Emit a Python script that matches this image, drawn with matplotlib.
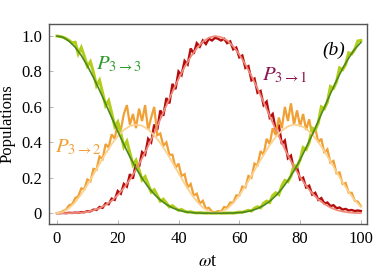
import numpy as np
import matplotlib

matplotlib.use("Agg")
import matplotlib.pyplot as plt

plt.rcParams["font.family"] = ["Liberation Serif", "DejaVu Serif"]
plt.rcParams["mathtext.fontset"] = "stix"

# smooth curves, sampled every 2 units of wt
t_smooth = list(range(0, 101, 2))
p33_smooth = [1.000, 0.993, 0.971, 0.937, 0.890, 0.832, 0.766, 0.694, 0.618, 0.540,
              0.462, 0.388, 0.318, 0.254, 0.197, 0.148, 0.107, 0.074, 0.049, 0.030,
              0.017, 0.008, 0.004, 0.001, 0.000, 0.000, 0.000, 0.000, 0.000, 0.001,
              0.003, 0.007, 0.014, 0.026, 0.043, 0.067, 0.098, 0.137, 0.184, 0.239,
              0.301, 0.370, 0.443, 0.520, 0.598, 0.675, 0.749, 0.817, 0.876, 0.926,
              0.964]
p32_smooth = [0.000, 0.007, 0.028, 0.062, 0.107, 0.160, 0.218, 0.278, 0.336, 0.390,
              0.435, 0.470, 0.492, 0.500, 0.494, 0.473, 0.440, 0.396, 0.344, 0.286,
              0.226, 0.167, 0.113, 0.067, 0.032, 0.009, 0.000, 0.006, 0.025, 0.057,
              0.101, 0.153, 0.211, 0.271, 0.329, 0.384, 0.430, 0.466, 0.490, 0.500,
              0.495, 0.477, 0.445, 0.402, 0.350, 0.293, 0.233, 0.174, 0.120, 0.073,
              0.036]
p31_smooth = [0.000, 0.000, 0.000, 0.001, 0.003, 0.008, 0.016, 0.028, 0.046, 0.070,
              0.102, 0.142, 0.190, 0.246, 0.309, 0.379, 0.453, 0.530, 0.608, 0.685,
              0.758, 0.825, 0.883, 0.931, 0.968, 0.991, 1.000, 0.994, 0.975, 0.942,
              0.896, 0.840, 0.775, 0.703, 0.627, 0.549, 0.472, 0.397, 0.326, 0.261,
              0.204, 0.154, 0.112, 0.078, 0.051, 0.032, 0.018, 0.009, 0.004, 0.001,
              0.000]

# full (jagged) curves, sampled every unit of wt
t_full = list(range(0, 101))
p33_full = [1.000, 0.998, 0.993, 0.986, 0.975, 0.962, 0.965, 0.900, 0.935, 0.885,
            0.830, 0.855, 0.795, 0.720, 0.750, 0.680, 0.608, 0.635, 0.565, 0.490,
            0.515, 0.450, 0.375, 0.405, 0.340, 0.272, 0.298, 0.245, 0.188, 0.206,
            0.163, 0.119, 0.132, 0.100, 0.068, 0.079, 0.057, 0.035, 0.042, 0.028,
            0.016, 0.021, 0.011, 0.005, 0.008, 0.003, 0.001, 0.003, 0.001, 0.000,
            0.001, 0.000, 0.000, 0.001, 0.000, 0.000, 0.001, 0.001, 0.000, 0.003,
            0.006, 0.004, 0.011, 0.016, 0.012, 0.028, 0.036, 0.030, 0.056, 0.068,
            0.060, 0.100, 0.115, 0.105, 0.155, 0.185, 0.178, 0.210, 0.270, 0.262,
            0.300, 0.370, 0.360, 0.400, 0.480, 0.470, 0.510, 0.600, 0.590, 0.628,
            0.715, 0.705, 0.742, 0.820, 0.810, 0.840, 0.905, 0.900, 0.925, 0.972,
            0.975]
p32_full = [0.000, 0.004, 0.012, 0.020, 0.045, 0.050, 0.085, 0.095, 0.140, 0.135,
            0.190, 0.180, 0.250, 0.245, 0.320, 0.305, 0.390, 0.370, 0.445, 0.420,
            0.510, 0.470, 0.560, 0.610, 0.500, 0.560, 0.480, 0.590, 0.520, 0.610,
            0.470, 0.540, 0.600, 0.440, 0.450, 0.380, 0.400, 0.330, 0.330, 0.255,
            0.280, 0.210, 0.220, 0.145, 0.165, 0.100, 0.110, 0.055, 0.070, 0.025,
            0.030, 0.008, 0.004, 0.012, 0.008, 0.035, 0.030, 0.060, 0.060, 0.100,
            0.100, 0.150, 0.145, 0.210, 0.200, 0.280, 0.270, 0.350, 0.330, 0.420,
            0.390, 0.480, 0.440, 0.540, 0.480, 0.600, 0.520, 0.620, 0.500, 0.580,
            0.490, 0.560, 0.470, 0.530, 0.440, 0.480, 0.400, 0.420, 0.340, 0.360,
            0.285, 0.295, 0.225, 0.230, 0.165, 0.170, 0.115, 0.115, 0.070, 0.065,
            0.040]
p31_full = [0.000, 0.000, 0.001, 0.000, 0.002, 0.001, 0.003, 0.002, 0.006, 0.005,
            0.011, 0.010, 0.020, 0.018, 0.035, 0.030, 0.055, 0.050, 0.082, 0.075,
            0.125, 0.110, 0.165, 0.150, 0.220, 0.195, 0.285, 0.260, 0.345, 0.330,
            0.420, 0.400, 0.500, 0.470, 0.580, 0.550, 0.650, 0.620, 0.730, 0.700,
            0.800, 0.780, 0.860, 0.840, 0.930, 0.900, 0.960, 0.940, 0.975, 0.955,
            0.985, 0.975, 0.990, 0.985, 0.975, 0.985, 0.960, 0.970, 0.925, 0.935,
            0.880, 0.890, 0.820, 0.830, 0.750, 0.760, 0.680, 0.690, 0.610, 0.630,
            0.540, 0.560, 0.470, 0.500, 0.390, 0.410, 0.310, 0.325, 0.245, 0.260,
            0.190, 0.200, 0.145, 0.155, 0.105, 0.115, 0.075, 0.085, 0.055, 0.060,
            0.040, 0.045, 0.028, 0.032, 0.020, 0.024, 0.015, 0.018, 0.012, 0.015,
            0.012]

x_ticks = [0, 20, 40, 60, 80, 100]
y_ticks = [0, 0.2, 0.4, 0.6, 0.8, 1.0]
y_tick_labels = ["0", "0.2", "0.4", "0.6", "0.8", "1.0"]

fig = plt.figure(figsize=(3.92, 2.73), dpi=100)
ax = fig.add_axes([0.125, 0.179, 0.811, 0.733])

# jagged curves underneath
ax.plot(t_full, p31_full, color="#b50d0d", lw=1.7, solid_joinstyle="miter")
ax.plot(t_full, p32_full, color="#f0a035", lw=1.6, solid_joinstyle="miter")
ax.plot(t_full, p33_full, color="#b4cc1a", lw=2.2, solid_joinstyle="miter")

# smooth curves on top
ax.plot(t_smooth, p31_smooth, color="#f08a7a", lw=1.3)
ax.plot(t_smooth, p32_smooth, color="#fcd28f", lw=1.3)
ax.plot(t_smooth, p33_smooth, color="#4a8a1c", lw=1.2)

ax.set_xlim(-2.63, 102.0)
ax.set_ylim(-0.062, 1.068)
ax.set_xticks(x_ticks)
ax.set_yticks(y_ticks)
ax.set_yticklabels(y_tick_labels)
ax.tick_params(direction="in", length=3, width=0.6, color="#aaaaaa",
               labelsize=12, pad=5)
for s in ax.spines.values():
    s.set_color("#555555")
    s.set_linewidth(1.0)

ax.set_ylabel("Populations", fontsize=12, labelpad=4)
ax.set_xlabel(r"$\omega$t", fontsize=13, labelpad=4)

ax.text(13.0, 0.84, r"$P_{3\rightarrow3}$", color="#2e9a2e", fontsize=15,
        va="center")
ax.text(67.5, 0.78, r"$P_{3\rightarrow1}$", color="#8a1450", fontsize=15,
        va="center")
ax.text(-0.5, 0.37, r"$P_{3\rightarrow2}$", color="#f0a035", fontsize=15,
        va="center")
ax.text(91, 0.92, "(b)", fontsize=14, ha="center", va="center",
        fontstyle="italic")

fig.savefig("out.png", dpi=100)
